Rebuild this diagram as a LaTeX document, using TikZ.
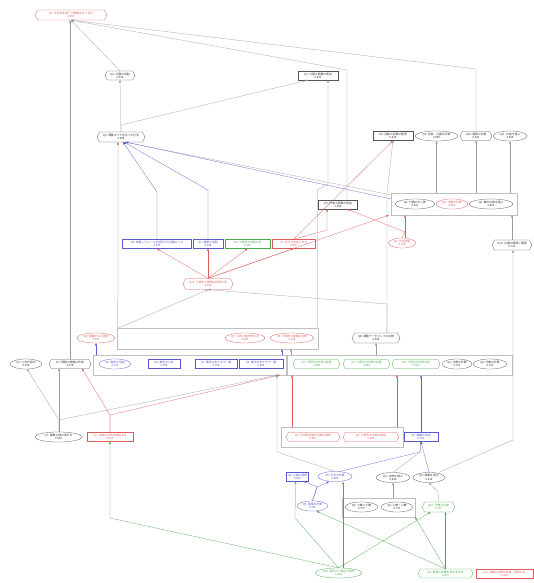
\documentclass[tikz,border=0pt]{standalone}
\usepackage{fontspec}
\newfontfamily\jp{Noto Sans CJK JP}
\usetikzlibrary{shapes.geometric,shapes.symbols,arrows.meta}
\definecolor{nred}{HTML}{E05A5A}
\definecolor{nblue}{HTML}{5A5AD0}
\definecolor{ngreen}{HTML}{4AAA4A}
\definecolor{ngray}{HTML}{999999}
\definecolor{nblk}{HTML}{555555}
\tikzset{
 nd/.style={font=\jp\fontsize{2.8}{3.3}\selectfont, align=center, inner sep=0.3pt, fill=white, line width=0.28pt, minimum height=9pt},
 cK/.style={draw=nblk, text=black!80},
 cR/.style={draw=nred, text=nred},
 cB/.style={draw=nblue, text=nblue},
 cG/.style={draw=ngreen, text=ngreen},
 hexs/.style={signal, signal to=east and west, signal pointer angle=125},
 ell/.style={ellipse, inner sep=0pt, minimum height=10pt},
 boxs/.style={rectangle, line width=0.2pt},
 clus/.style={draw=black!25, line width=0.3pt, rectangle, inner sep=0pt, fill=white},
 tip/.style={-{Triangle[length=2.4pt,width=1.9pt]}},
 eK/.style={draw=ngray, line width=0.25pt, tip},
 eR/.style={draw=nred, line width=0.25pt, tip},
 eB/.style={draw=nblue, line width=0.25pt, tip},
 eG/.style={draw=ngreen, line width=0.25pt, tip},
}
\begin{document}
\begin{tikzpicture}[x=1pt,y=-1pt]
\fill[white] (0,0) rectangle (534,583);
\useasboundingbox (0,0) rectangle (534,583);

% clusters
\node[clus, minimum width=126pt, minimum height=22pt] (c1) at (454,204) {};
\node[clus, minimum width=201pt, minimum height=21pt] (c2) at (217.5,338.5) {};
\node[clus, minimum width=193pt, minimum height=20pt] (c3) at (189.5,365) {};
\node[clus, minimum width=225pt, minimum height=20pt] (c4) at (399.5,365) {};
\node[clus, minimum width=122pt, minimum height=20pt] (c5) at (342,437) {};
\node[clus, minimum width=73pt, minimum height=19pt] (c6) at (378.5,507.5) {};

% nodes
\node[nd,hexs,cR,minimum width=72pt,minimum height=10pt] (n1) at (71,15) {Q7: 文字式を使って数量を比べるか\\0.581};
\node[nd,hexs,cK,minimum width=30pt] (n2) at (120,75.5) {Q2: 公園の役割\\0.536};
\node[nd,boxs,cK,minimum width=40pt] (n3) at (318,75.5) {Q3: 公園の面積の理由\\0.551};
\node[nd,hexs,cK,minimum width=48pt,minimum height=10pt] (n4) at (121,137) {Q4: 運動すべてを比べる方法\\0.608};
\node[nd,boxs,cK,minimum width=40pt] (n5) at (393,136) {Q8: 活動の記録の整理\\0.436};
\node[nd,ell,cK,minimum width=43pt] (n6) at (436.5,136) {Q9: 比較・公園の比較\\0.569};
\node[nd,hexs,cK,minimum width=32pt] (n7) at (476,136) {Q10: 面積の比較\\0.541};
\node[nd,ell,cK,minimum width=34pt] (n8) at (510,136) {Q11: 比較を選ぶ\\0.539};
\node[nd,boxs,cK,minimum width=39pt] (n9) at (338,204.5) {Q5: 仕事の面積の理由\\0.652};
\node[nd,ell,cK,minimum width=40pt] (n10) at (415,204) {Q1: 分数のたし算\\0.521};
\node[nd,ell,cR,minimum width=32pt] (n11) at (452,204) {Q6: 分数の計算\\0.660};
\node[nd,ell,cK,minimum width=44pt] (n12) at (491,204) {Q6: 数の比較を選ぶ\\0.862};
\node[nd,ell,cR,minimum width=27pt] (n13) at (402,243) {Q7: 比の説明\\0.754};
\node[nd,hexs,cK,minimum width=40pt,minimum height=10pt] (n14) at (512,245) {Q14: 公園の面積と面積\\0.722};
\node[nd,boxs,cB,minimum width=69pt] (n15) at (157,244) {Q8: 体験してルールを説明する活動をした\\0.575};
\node[nd,boxs,cB,minimum width=30pt] (n16) at (208,244) {Q7: 運動の活動\\0.546};
\node[nd,boxs,cG,minimum width=45pt] (n17) at (247.5,244) {Q6: 三角形の内角の和\\0.497};
\node[nd,boxs,cR,minimum width=43pt] (n18) at (293.5,244) {Q3: 考え方をまとめる\\0.579};
\node[nd,hexs,cR,minimum width=50pt,minimum height=11pt] (n19) at (208,284) {Q21: 三角形の面積の計算方法\\0.536};
\node[nd,ell,cR,minimum width=40pt] (n20) at (245,338) {Q7: 公式の値を求める\\0.620};
\node[nd,ell,cR,minimum width=44pt] (n21) at (292,338) {Q7: 三角形の面積の比較\\0.114};
\node[nd,hexs,cK,minimum width=48pt,minimum height=10pt] (n22) at (376,338) {Q8: 運動データとしての比較\\0.484};
\node[nd,ell,cR,minimum width=38pt] (n23) at (96,338) {Q8: 面積からの説明\\0.764};
\node[nd,ell,cB,minimum width=32pt] (n24) at (115,364) {Q5: 数学の役割\\0.737};
\node[nd,boxs,cB,minimum width=32pt] (n25) at (164,364) {Q6: 数学の公式\\0.798};
\node[nd,boxs,cB,minimum width=42pt] (n26) at (216,364) {Q7: 数学の考え方で一番\\0.750};
\node[nd,boxs,cB,minimum width=44pt] (n27) at (261,364) {Q6: 数学の考え方で一番\\0.808};
\node[nd,hexs,cG,minimum width=47pt] (n28) at (316.5,364) {Q3: 三角形の内角の定理\\0.558};
\node[nd,hexs,cG,minimum width=47pt] (n29) at (366.5,364) {Q7: 三角形の内角の定理\\0.654};
\node[nd,hexs,cG,minimum width=48pt] (n30) at (416,364) {Q4: 三角形の内角の和\\0.790};
\node[nd,ell,cK,minimum width=30pt] (n31) at (457,364) {Q1: 分数の計算\\0.721};
\node[nd,ell,cK,minimum width=34pt] (n32) at (490,364) {Q8: 分数の計算\\0.722};
\node[nd,ell,cK,minimum width=32pt] (n33) at (26,364) {Q1: 二次方程式\\0.438};
\node[nd,hexs,cK,minimum width=42pt] (n34) at (70,364) {Q7: 情報の規格の作成\\0.578};
\node[nd,ell,cK,minimum width=47pt] (n35) at (58.5,437) {Q7: 関数の値の求め方\\0.503};
\node[nd,boxs,cR,minimum width=46pt] (n36) at (110,437) {Q1: 比較の方法を説明する\\0.511};
\node[nd,hexs,cR,minimum width=54pt] (n37) at (313,437) {Q2: 平均的な値の比較の説明\\0.627};
\node[nd,hexs,cR,minimum width=56pt] (n38) at (371,437) {Q3: 三角形の比較の説明\\0.600};
\node[nd,boxs,cB,minimum width=34pt] (n39) at (421,437) {Q5: 複数の体系\\0.781};
\node[nd,ell,cK,minimum width=34pt] (n40) at (393,477.5) {Q2: 比較を選ぶ\\0.642};
\node[nd,ell,cK,minimum width=32pt] (n41) at (429,477.5) {Q3: 順番を選ぶ\\0.619};
\node[nd,boxs,cB,minimum width=22pt] (n42) at (297.5,476.5) {Q6: 公園の面積\\0.604};
\node[nd,ell,cB,minimum width=34pt] (n43) at (335,476.5) {Q8: 平均の計算\\0.805};
\node[nd,ell,cB,minimum width=31pt] (n44) at (312.5,506) {Q9: 面積の計算\\0.792};
\node[nd,ell,cK,minimum width=33pt] (n45) at (361.5,507) {Q3: 小数×小数\\0.770};
\node[nd,ell,cK,minimum width=32pt] (n46) at (397,507) {Q5: 小数÷小数\\0.770};
\node[nd,hexs,cG,minimum width=33pt,minimum height=10pt] (n47) at (438.5,507) {Q10: 分数の比較\\0.797};
\node[nd,ell,cG,minimum width=47pt] (n48) at (338.5,573) {Q10: 図形の二等辺三角形\\0.614};
\node[nd,hexs,cG,minimum width=55pt] (n49) at (445.5,573.5) {Q6: 面積の計算を求める方法\\0.471};
\node[nd,boxs,cR,minimum width=57pt] (n50) at (504.5,573.5) {Q1: 小数の計算を表現・説明する\\0.314};

% edges to top
\draw[eK] (n34.north) -- (n34.north |- n1.south);
\draw[eK] (n2.north) -- (n1.south);
\draw[eK] (n7.north) -- (476,69) -- (n1.south);
\draw[eK] ([xshift=9pt]n9.north) -- (347,70) -- (n1.south);
\draw[eK] (n4.north) -- (n2.south);
\draw[eK] (n4.north) -- (121,125) -- ([xshift=-10pt]n3.south);
\draw[eK] ([xshift=100pt]c2.north) -- (317.5,190) -- (328,184) -- ([xshift=10pt]n3.south);
% Q4 fan
\draw[eB] (n15.north) -- (157,192) -- ([xshift=2pt]n4.south);
\draw[eB] (n16.north) -- (208,190) -- ([xshift=3pt]n4.south);
\draw[eK] ([yshift=-2pt]c1.north west) -- ([xshift=4pt]n4.south);
\draw[eB] ([yshift=-6pt]c1.north west) -- ([xshift=5pt]n4.south);
\draw[eR] ([xshift=1pt]c2.north west) -- ([xshift=-3pt]n4.south);
% red hub
\draw[eR] (n19.north) -- (n15.south);
\draw[eR] (n19.north) -- (n16.south);
\draw[eR] (n19.north) -- (n17.south);
\draw[eR] (n19.north) -- (n18.south);
\draw[eR] (n19.north) -- ([xshift=-2pt]c1.south west);
\draw[eR] (n13.north) -- (405,232) -- ([xshift=9pt]n9.south);
\draw[eR] (n18.north) -- (327,230) -- ([xshift=-11pt]n9.south);
\draw[eR] (n18.north) -- (n5.south);
\draw[eR] ([xshift=3pt]n13.north) -- ([xshift=3pt]n13.north |- c1.south);
\draw[eK] (n14.north) -- (n14.north |- c1.south);
\draw[eK] (n6.south |- c1.north) -- (n6.south);
\draw[eK] (n7.south |- c1.north) -- (n7.south);
\draw[eK] (n8.south |- c1.north) -- (n8.south);
\draw[eK] ([xshift=11pt]n22.north) -- (387,193) -- (n5.south);
\draw[eK] ([xshift=11pt]n22.north) -- (387,304) -- (n19.south);
\draw[eK] ([xshift=2pt]c2.north west) -- (n19.south);
% cluster links
\draw[eB] (96,355) -- (n23.south);
\draw[eB] (282,355) -- (282,349);
\draw[eK] (291,355) -- (291,349);
\draw[eK] (n22.south |- c4.north) -- (n22.south);
% left part
\draw[eK] (59,432) -- (59,368.5);
\draw[eK] (59,432) -- (59,420) -- (27,369);
\draw[eK] (59,432) -- (59,420) -- (278,375);
\draw[eR] (n36.north) -- (110,415) -- (82,368.5);
\draw[eR] (n36.north) -- (110,415) -- (280,375);
% lower middle
\draw[eK] (n43.north) -- (277,452) -- (277,375);
\draw[eR] (292,427) -- (292,375);
\draw[eR] (397,427) -- (397,375);
\draw[eB] (n39.north) -- (n39.north |- c4.south);
\draw[eB] ([xshift=5pt]n43.north) -- (420,452) -- (n39.south);
\draw[eK] (n40.north) -- (420,452) -- (n39.south);
\draw[eB] (n41.north) -- (n39.south);
\draw[eK] ([xshift=10pt]n41.north) -- (513,440) -- ([xshift=1pt]n14.south);
\draw[eK] (393,498) -- (n40.south);
\draw[eK] (n47.north) -- (438,492) -- (n41.south);
\draw[eB] (n44.north) -- (317,487) -- ([xshift=6pt]n42.south);
\draw[eB] (n44.north) -- (317,487) -- ([xshift=-6pt]n43.south);
% bottom green
\draw[eG] (n48.north) -- (110,518) -- (n36.south);
\draw[eG] (n48.north) -- (295,518) -- ([xshift=-2pt]n42.south);
\draw[eG] ([xshift=4.5pt]n48.north) -- ([xshift=8pt]n43.south);
\draw[eG] (n48.north) -- ([xshift=-8pt]n47.south);
\draw[eG] (n49.north) -- ([xshift=4pt]n44.south);
\draw[eG] (n49.north) -- (c6.south east);
\draw[eG] (n49.north) -- ([xshift=7pt]n47.south);
\end{tikzpicture}
\end{document}
